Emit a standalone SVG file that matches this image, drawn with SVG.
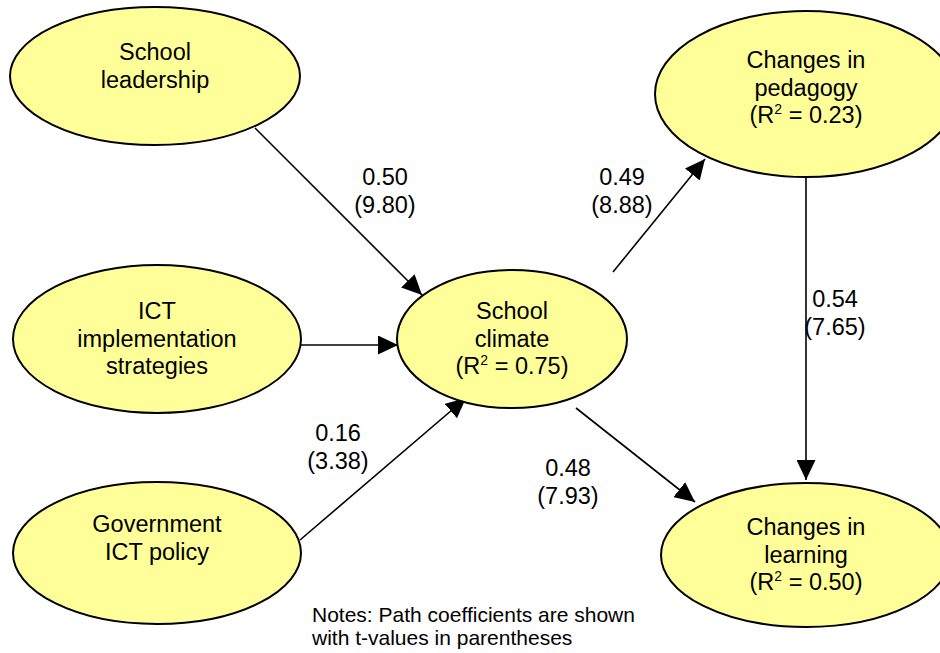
<svg xmlns="http://www.w3.org/2000/svg" width="940" height="653" viewBox="0 0 940 653">
  <style>
    .node { fill: #ffff99; stroke: #000; stroke-width: 2; }
    .lbl { font-family: "Liberation Sans", Arial, sans-serif; font-size: 23.5px; fill: #000; text-anchor: middle; }
    .sup { font-size: 14px; }
    .note { font-family: "Liberation Sans", Arial, sans-serif; font-size: 21px; fill: #000; }
    .edge { stroke: #000; stroke-width: 1.6; fill: none; marker-end: url(#arrow); }
  </style>
  <defs>
    <marker id="arrow" viewBox="0 0 20 19" refX="20" refY="9.5" markerWidth="20" markerHeight="19" markerUnits="userSpaceOnUse" orient="auto">
      <path d="M0,0 L20,9.5 L0,19 z" fill="#000"/>
    </marker>
  </defs>
  <rect width="940" height="653" fill="#fff"/>

  <g id="connectors">
    <line class="edge" x1="255" y1="128" x2="422" y2="295"/>
    <line class="edge" x1="301" y1="345" x2="398" y2="345"/>
    <line class="edge" x1="300" y1="540" x2="466" y2="398"/>
    <line class="edge" x1="613" y1="272" x2="705" y2="159"/>
    <line class="edge" x1="576" y1="408" x2="695" y2="502"/>
    <line class="edge" x1="806" y1="178" x2="806" y2="480"/>
    <text class="lbl" x="385" y="185">0.50</text>
    <text class="lbl" x="385" y="213">(9.80)</text>
    <text class="lbl" x="622" y="185">0.49</text>
    <text class="lbl" x="622" y="213">(8.88)</text>
    <text class="lbl" x="835" y="307">0.54</text>
    <text class="lbl" x="835" y="335">(7.65)</text>
    <text class="lbl" x="338" y="441">0.16</text>
    <text class="lbl" x="338" y="469">(3.38)</text>
    <text class="lbl" x="568" y="476">0.48</text>
    <text class="lbl" x="568" y="504">(7.93)</text>
  </g>

  <g id="school-leadership">
    <ellipse class="node" cx="155" cy="76" rx="145" ry="69"/>
    <text class="lbl" x="155" y="59.5">School</text>
    <text class="lbl" x="155" y="87.5">leadership</text>
  </g>
  <g id="ict-strategies">
    <ellipse class="node" cx="157" cy="339" rx="144" ry="74"/>
    <text class="lbl" x="157" y="318.5">ICT</text>
    <text class="lbl" x="157" y="346.5">implementation</text>
    <text class="lbl" x="157" y="373.5">strategies</text>
  </g>
  <g id="government-policy">
    <ellipse class="node" cx="157" cy="553" rx="144" ry="71"/>
    <text class="lbl" x="157" y="531.5">Government</text>
    <text class="lbl" x="157" y="559.5">ICT policy</text>
  </g>
  <g id="school-climate">
    <ellipse class="node" cx="512" cy="339" rx="115" ry="69"/>
    <text class="lbl" x="512" y="318.5">School</text>
    <text class="lbl" x="512" y="346.5">climate</text>
    <text class="lbl" x="512" y="373.5">(R<tspan class="sup" dy="-9">2</tspan><tspan dy="9"> = 0.75)</tspan></text>
  </g>
  <g id="changes-pedagogy">
    <ellipse class="node" cx="806" cy="94" rx="151" ry="83"/>
    <text class="lbl" x="806" y="67.5">Changes in</text>
    <text class="lbl" x="806" y="95.5">pedagogy</text>
    <text class="lbl" x="806" y="122.5">(R<tspan class="sup" dy="-9">2</tspan><tspan dy="9"> = 0.23)</tspan></text>
  </g>
  <g id="changes-learning">
    <ellipse class="node" cx="806" cy="555" rx="145" ry="72"/>
    <text class="lbl" x="806" y="534.5">Changes in</text>
    <text class="lbl" x="806" y="562.5">learning</text>
    <text class="lbl" x="806" y="589.5">(R<tspan class="sup" dy="-9">2</tspan><tspan dy="9"> = 0.50)</tspan></text>
  </g>

  <g id="notes">
    <text class="note" x="312" y="621.5">Notes: Path coefficients are shown</text>
    <text class="note" x="312" y="645">with t-values in parentheses</text>
  </g>
</svg>
